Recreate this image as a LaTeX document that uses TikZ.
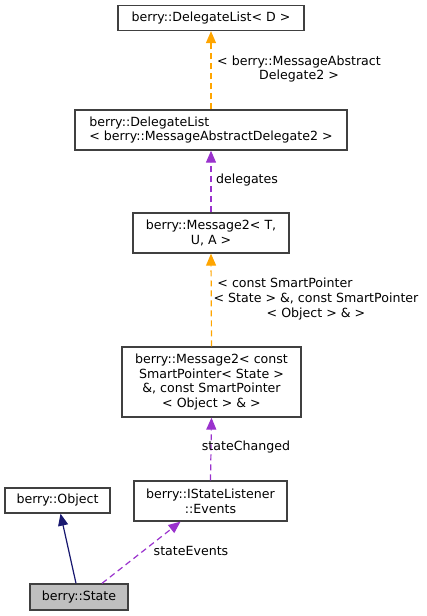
\documentclass[tikz,border=0pt]{standalone}
\usepackage{fontspec}
\setmainfont{DejaVu Sans}
\usetikzlibrary{arrows.meta}
\definecolor{boxline}{HTML}{404040}
\definecolor{edgeorange}{HTML}{FFA500}
\definecolor{edgepurple}{HTML}{9A32CD}
\definecolor{edgenavy}{HTML}{191970}
\tikzset{
  cls/.style={draw=boxline, line width=1.3pt, fill=white, inner sep=0pt, font=\fontsize{12.6}{14.7}\selectfont, align=center},
  curcls/.style={cls, fill=black!25},
  tmpl/.style={draw=edgeorange, line width=1.2pt, dash pattern=on 6pt off 4pt, -{Triangle[length=12pt,width=10pt,fill=edgeorange]}},
  use/.style={draw=edgepurple, line width=1.2pt, dash pattern=on 6pt off 4pt, -{Triangle[length=12pt,width=10pt,fill=edgepurple]}},
  inh/.style={draw=edgenavy, line width=1.2pt, -{Triangle[length=12pt,width=10pt,fill=edgenavy]}},
  lbl/.style={font=\fontsize{12.6}{14.7}\selectfont, align=center, inner sep=0pt}
}
\begin{document}
\begin{tikzpicture}[x=1pt,y=-1pt]
\useasboundingbox (0,0) rectangle (427,616);
\node[cls, minimum width=186pt, minimum height=25pt] (dl) at (211,18) {berry::DelegateList< D >};
\node[cls, minimum width=272pt, minimum height=40pt, align=left] (dlm) at (211,130) {berry::DelegateList\\< berry::MessageAbstractDelegate2 >};
\node[cls, minimum width=156pt, minimum height=40pt] (m2) at (211,233) {berry::Message2< T,\\U, A >};
\node[cls, minimum width=179pt, minimum height=70pt] (m2c) at (211.5,382) {berry::Message2< const\\SmartPointer< State >\\\&, const SmartPointer\\< Object > \& >};
\node[cls, minimum width=153pt, minimum height=40pt] (ev) at (210.5,501) {berry::IStateListener\\::Events};
\node[cls, minimum width=105pt, minimum height=25pt] (obj) at (57.5,500.5) {berry::Object};
\node[curcls, minimum width=98pt, minimum height=26pt] (st) at (79,597) {berry::State};

\draw[tmpl] (dlm.north) -- (dl.south);
\node[lbl] (l1) at (299,69) {< berry::MessageAbstract\\Delegate2 >};

\draw[use] (m2.north) -- (dlm.south);
\node[lbl] (l2) at (247,180) {delegates};

\draw[tmpl] (m2c.north) -- (m2.south);
\node[lbl] (l3) at (316,299) {< const SmartPointer\hspace*{62pt}\\< State > \&, const SmartPointer\\< Object > \& >};

\draw[use] (ev.north) -- (m2c.south);
\node[lbl] (l4) at (246,447) {stateChanged};

\draw[inh] ([xshift=-3pt]st.north) -- ([xshift=3pt]obj.south);
\draw[use] ([xshift=23pt]st.north) -- ([xshift=-30pt]ev.south);
\node[lbl] (l5) at (191,551) {stateEvents};
\end{tikzpicture}
\end{document}
